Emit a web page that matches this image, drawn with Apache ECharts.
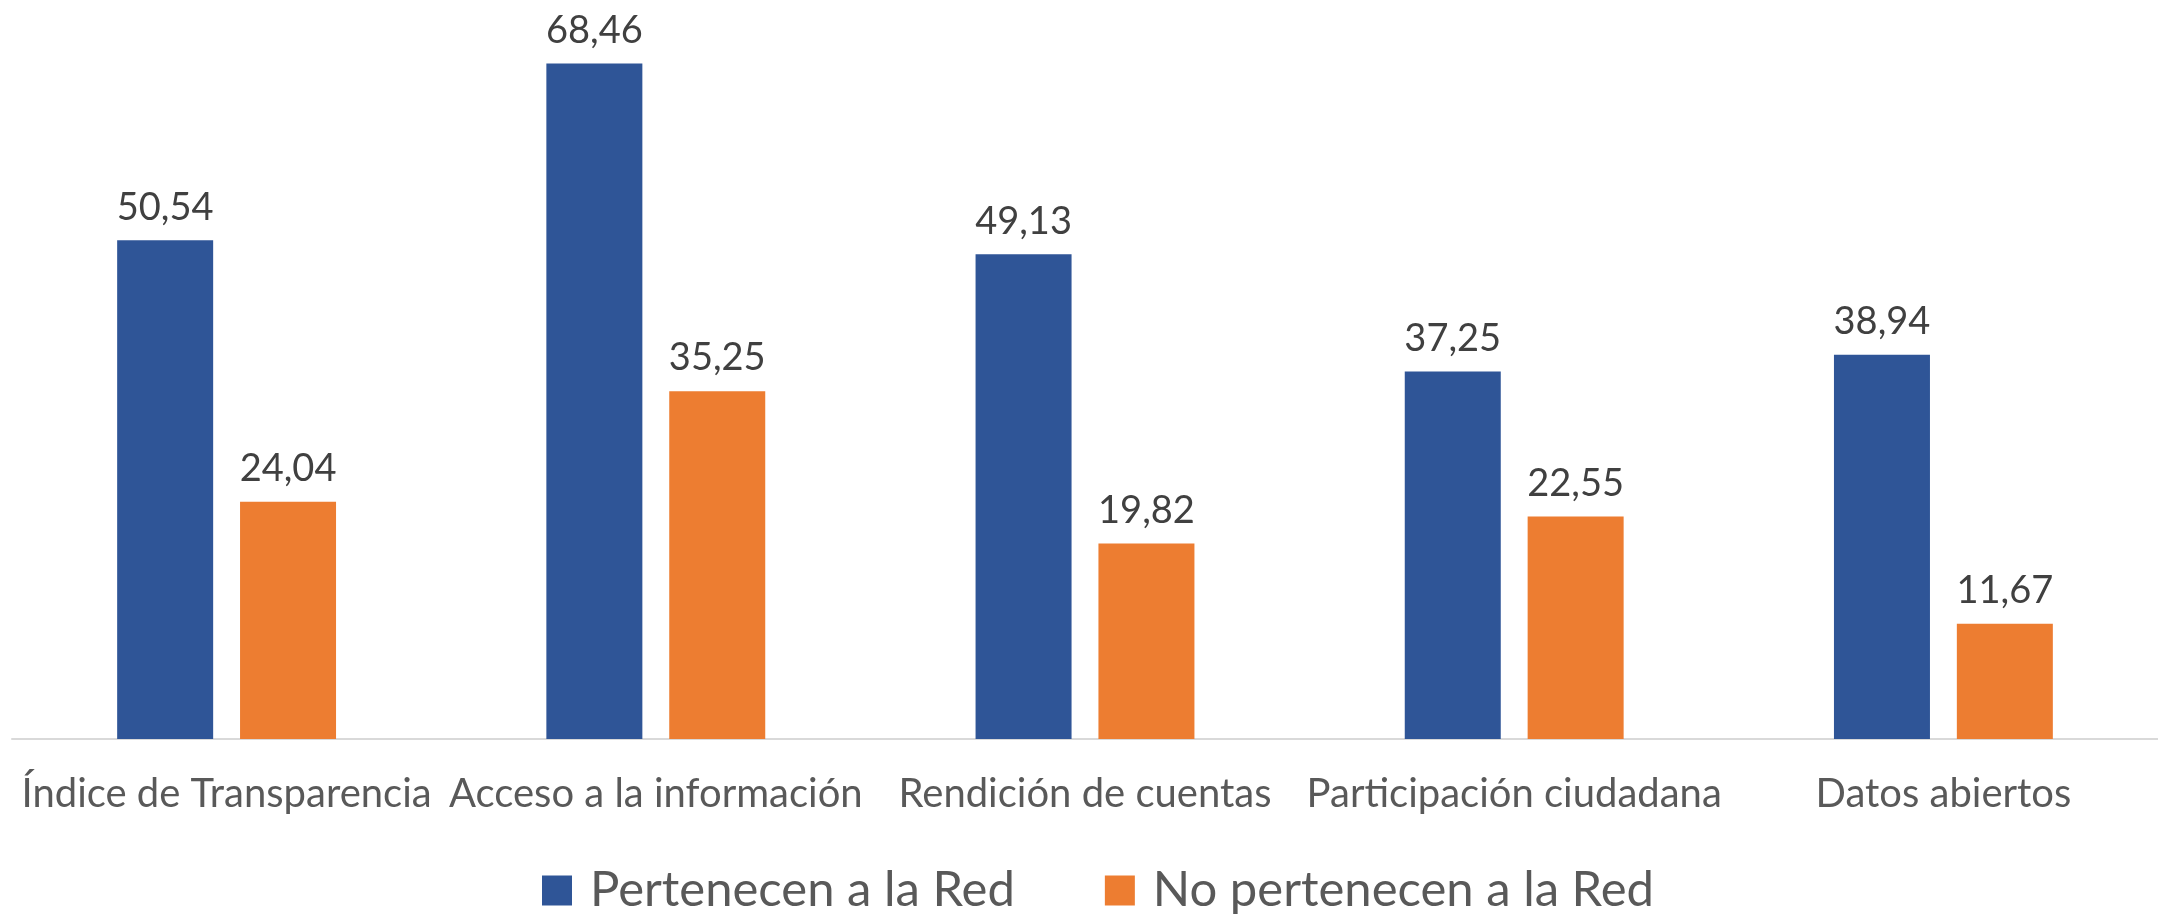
<!DOCTYPE html>
<html>
<head>
<meta charset="utf-8">
<script src="https://cdn.jsdelivr.net/npm/echarts@6/dist/echarts.min.js"></script>
<style>
html,body{margin:0;padding:0;background:#fff;}
#chart{width:2158px;height:917px;}
</style>
</head>
<body>
<div id="chart"></div>
<script>
const categories = ["Índice de Transparencia", "Acceso a la información", "Rendición de cuentas", "Participación ciudadana", "Datos abiertos"];
const seriesNames = ["Pertenecen a la Red", "No pertenecen a la Red"];
const redValues = [50.54, 68.46, 49.13, 37.25, 38.94];
const noRedValues = [24.04, 35.25, 19.82, 22.55, 11.67];

const fmt = p => p.value.toFixed(2).replace('.', ',');
const FONT = 'Lato';

const chart = echarts.init(document.getElementById('chart'));
chart.setOption({
  animation: false,
  backgroundColor: '#ffffff',
  grid: { left: 12, top: 0, width: 2154, height: 739, containLabel: false },
  legend: {
    left: 537,
    top: 861,
    itemWidth: 30,
    itemHeight: 30,
    itemGap: 90,
    icon: 'rect',
    textStyle: { fontFamily: FONT, fontSize: 49, color: '#595959', padding: [0, 0, 0, 13] },
    data: seriesNames
  },
  xAxis: {
    type: 'category',
    data: categories,
    axisLine: { show: true, lineStyle: { color: '#d9d9d9', width: 2 } },
    axisTick: { show: false },
    axisLabel: { fontFamily: FONT, fontSize: 40, color: '#595959', margin: 35, interval: 0 }
  },
  yAxis: {
    type: 'value',
    min: 0,
    max: 74.9,
    show: false,
    splitLine: { show: false }
  },
  series: [
    {
      name: seriesNames[0],
      type: 'bar',
      data: redValues,
      barWidth: 96,
      barGap: '28%',
      itemStyle: { color: '#2F5597' },
      label: { show: true, position: 'top', distance: 14, formatter: fmt, fontFamily: FONT, fontSize: 38, color: '#404040' }
    },
    {
      name: seriesNames[1],
      type: 'bar',
      data: noRedValues,
      barWidth: 96,
      itemStyle: { color: '#ED7D31' },
      label: { show: true, position: 'top', distance: 14, formatter: fmt, fontFamily: FONT, fontSize: 38, color: '#404040' }
    }
  ]
});
</script>
</body>
</html>
